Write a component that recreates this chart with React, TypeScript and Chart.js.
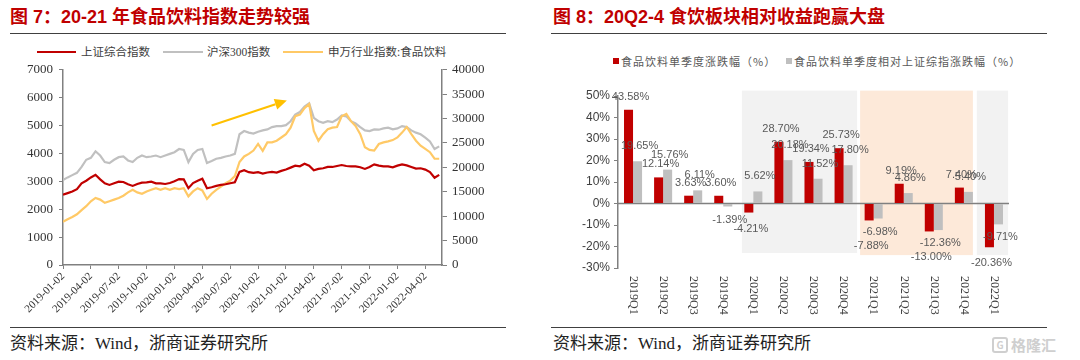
import React, { useEffect, useRef } from "react";
import { Chart, registerables } from "chart.js";

Chart.register(...registerables);

// ---------------- Left chart data (half-monthly samples, 6 per quarter) ----------------
const quarterTicks = [
  "2019-01-02", "2019-04-02", "2019-07-02", "2019-10-02",
  "2020-01-02", "2020-04-02", "2020-07-02", "2020-10-02",
  "2021-01-02", "2021-04-02", "2021-07-02", "2021-10-02",
  "2022-01-02", "2022-04-02",
];
const POINTS_PER_QUARTER = 6;

const sseComposite = [
  2520, 2578, 2637, 2720, 2930, 3023, 3140, 3234, 3070, 2930,
  2871, 2930, 2988, 2977, 2895, 2836, 2906, 2953, 2965, 2988,
  2930, 2930, 2906, 2941, 3000, 3082, 3070, 2754, 2940, 3023,
  3094, 2754, 2789, 2836, 2871, 2895, 2930, 2965, 3340, 3398,
  3328, 3305, 3328, 3281, 3316, 3340, 3316, 3375, 3422, 3492,
  3563, 3539, 3633, 3563, 3398, 3445, 3470, 3516, 3516, 3551,
  3586, 3551, 3539, 3539, 3504, 3445, 3516, 3609, 3563, 3539,
  3539, 3504, 3563, 3609, 3574, 3516, 3457, 3469, 3422, 3330,
  3130, 3230,
];

const csi300 = [
  3047, 3141, 3223, 3305, 3516, 3774, 3844, 4078, 3926, 3691,
  3656, 3774, 3867, 3891, 3750, 3691, 3844, 3926, 3867, 3891,
  3926, 3867, 3926, 3984, 4043, 4160, 4125, 3691, 3984, 4125,
  4160, 3656, 3727, 3809, 3844, 3891, 3926, 3984, 4688, 4805,
  4746, 4711, 4781, 4828, 4863, 4946, 4980, 4980, 5016, 5156,
  5391, 5485, 5684, 5800, 5274, 5156, 5098, 5156, 5121, 5215,
  5367, 5332, 5156, 5074, 4946, 4828, 4805, 4863, 4852, 4899,
  4922, 4863, 4899, 4980, 4946, 4828, 4746, 4688, 4570, 4430,
  4160, 4254,
];

const swFoodBeverage = [
  8844, 9380, 9849, 10385, 11256, 12060, 13065, 13735, 13400, 12730,
  13065, 13400, 13735, 14204, 14874, 15410, 14874, 14606, 15075, 15410,
  15745, 15410, 15745, 15410, 15745, 15544, 15745, 14070, 15075, 15745,
  15276, 13534, 14606, 15410, 16080, 16750, 17286, 18224, 21105, 22244,
  22780, 23450, 24800, 23400, 25125, 25125, 25460, 26130, 26800, 28140,
  30485, 30820, 32160, 32964, 27470, 25460, 26800, 27805, 28140, 28274,
  30485, 30954, 29480, 28475, 26800, 24120, 23584, 23450, 24790, 25125,
  25326, 25594, 26130, 27135, 28274, 26800, 25460, 24455, 23785, 23115,
  21775, 21775,
];

const lineSeriesNames = ["上证综合指数", "沪深300指数", "申万行业指数:食品饮料"];
const lineColors = ["#C00000", "#C0C0C0", "#FFC966"];

// trend arrow annotation (index on x, left-axis value on y)
const trendArrow = { fromX: 32, fromY: 5000, toX: 48.2, toY: 5900 };

// ---------------- Right chart data ----------------
const quarters = [
  "2019Q1", "2019Q2", "2019Q3", "2019Q4",
  "2020Q1", "2020Q2", "2020Q3", "2020Q4",
  "2021Q1", "2021Q2", "2021Q3", "2021Q4",
  "2022Q1",
];
const foodBevQuarterly = [43.58, 12.14, 3.63, 3.6, -4.21, 28.7, 19.34, 25.73, -7.88, 9.19, -13.0, 7.4, -20.36];
const foodBevVsSSE = [19.65, 15.76, 6.11, -1.39, 5.62, 20.18, 11.52, 17.8, -6.98, 4.86, -12.36, 5.4, -9.71];
const barSeriesNames = ["食品饮料单季度涨跌幅（%）", "食品饮料单季度相对上证综指涨跌幅（%）"];
const barColors = ["#C00000", "#BFBFBF"];

// highlighted periods (category positions), shaded behind bars
const bands = [
  { from: 3.62, to: 7.45, top: 52.5, bottom: -23, color: "#F2F2F2" },
  { from: 7.55, to: 11.3, top: 52.5, bottom: -24, color: "#FDE9D9" },
  { from: 11.43, to: 12.47, top: 52.5, bottom: -24, color: "#F2F2F2" },
];

const AXIS = "#808080";
const SERIF = "'Liberation Serif', 'Times New Roman', serif";

function LeftChart() {
  const ref = useRef<HTMLCanvasElement | null>(null);
  useEffect(() => {
    const arrowPlugin = {
      id: "arrow",
      afterDatasetsDraw(chart: any) {
        const { ctx, scales } = chart;
        const x1 = scales.x.getPixelForValue(trendArrow.fromX);
        const y1 = scales.y.getPixelForValue(trendArrow.fromY);
        const x2 = scales.x.getPixelForValue(trendArrow.toX);
        const y2 = scales.y.getPixelForValue(trendArrow.toY);
        const ang = Math.atan2(y2 - y1, x2 - x1);
        const head = 12;
        const hw = 5.5;
        const bx = x2 - head * Math.cos(ang);
        const by = y2 - head * Math.sin(ang);
        ctx.save();
        ctx.strokeStyle = "#FFC000";
        ctx.fillStyle = "#FFC000";
        ctx.lineWidth = 2;
        ctx.beginPath();
        ctx.moveTo(x1, y1);
        ctx.lineTo(bx, by);
        ctx.stroke();
        ctx.beginPath();
        ctx.moveTo(x2, y2);
        ctx.lineTo(bx + hw * Math.sin(ang), by - hw * Math.cos(ang));
        ctx.lineTo(bx - hw * Math.sin(ang), by + hw * Math.cos(ang));
        ctx.closePath();
        ctx.fill();
        ctx.restore();
      },
    };
    const series = [sseComposite, csi300, swFoodBeverage];
    const chart = new Chart(ref.current as HTMLCanvasElement, {
      type: "line",
      data: {
        datasets: series.map((s, k) => ({
          label: lineSeriesNames[k],
          data: s.map((v, i) => ({ x: i, y: v })),
          borderColor: lineColors[k],
          backgroundColor: lineColors[k],
          borderWidth: 2.2,
          pointRadius: 0,
          tension: 0,
          yAxisID: k === 2 ? "y1" : "y",
          order: k === 0 ? 1 : k === 2 ? 2 : 3,
        })),
      },
      options: {
        animation: false,
        responsive: false,
        maintainAspectRatio: false,
        layout: { padding: { top: 10, left: 0, right: 0, bottom: 0 } },
        plugins: { legend: { display: false }, tooltip: { enabled: false } },
        scales: {
          x: {
            type: "linear",
            min: 0,
            max: 81.6,
            afterBuildTicks: (s: any) => {
              s.ticks = quarterTicks.map((_, i) => ({ value: i * POINTS_PER_QUARTER }));
            },
            afterFit: (s: any) => {
              s.height = 61;
            },
            ticks: {
              autoSkip: false,
              minRotation: 45,
              maxRotation: 45,
              padding: 1,
              color: "#333",
              font: { family: SERIF, size: 11 },
              callback: (v: any) => quarterTicks[Math.round(Number(v) / POINTS_PER_QUARTER)] ?? "",
            },
            grid: { drawOnChartArea: false, tickLength: 4, color: AXIS, lineWidth: 1 },
            border: { color: AXIS, width: 1.5 },
          },
          y: {
            position: "left",
            min: 0,
            max: 7000,
            afterFit: (s: any) => {
              s.width = 63;
            },
            ticks: {
              stepSize: 1000,
              padding: 6,
              color: "#333",
              font: { family: SERIF, size: 13 },
              callback: (v: any) => String(v),
            },
            grid: { drawOnChartArea: false, tickLength: 4, color: AXIS, lineWidth: 1 },
            border: { color: AXIS, width: 1.5 },
          },
          y1: {
            position: "right",
            min: 0,
            max: 40000,
            afterFit: (s: any) => {
              s.width = 98;
            },
            ticks: {
              stepSize: 5000,
              padding: 5,
              color: "#333",
              font: { family: SERIF, size: 13 },
              callback: (v: any) => String(v),
            },
            grid: { drawOnChartArea: false, tickLength: 5, color: AXIS, lineWidth: 1 },
            border: { color: AXIS, width: 1.5 },
          },
        },
      },
      plugins: [arrowPlugin],
    } as any);
    return () => chart.destroy();
  }, []);
  return (
    <canvas
      ref={ref}
      width={540}
      height={270}
      style={{ position: "absolute", left: 0, top: 56, width: 540, height: 270 }}
    />
  );
}

function RightChart() {
  const ref = useRef<HTMLCanvasElement | null>(null);
  useEffect(() => {
    const decorPlugin = {
      id: "decor",
      beforeDatasetsDraw(chart: any) {
        const { ctx, scales, chartArea } = chart;
        const xs = scales.x;
        const ys = scales.y;
        ctx.save();
        bands.forEach((b) => {
          const l = xs.getPixelForValue(b.from);
          const r = xs.getPixelForValue(b.to);
          const t = ys.getPixelForValue(b.top);
          const bt = ys.getPixelForValue(b.bottom);
          ctx.fillStyle = b.color;
          ctx.fillRect(l, t, r - l, bt - t);
        });
        const y0 = ys.getPixelForValue(0);
        ctx.strokeStyle = AXIS;
        ctx.lineWidth = 1.5;
        ctx.beginPath();
        ctx.moveTo(chartArea.left, y0);
        ctx.lineTo(chartArea.right, y0);
        ctx.stroke();
        ctx.restore();
      },
      afterDatasetsDraw(chart: any) {
        const { ctx } = chart;
        ctx.save();
        ctx.fillStyle = "#595959";
        ctx.font = "11px 'Liberation Sans Narrow', 'Liberation Sans', sans-serif";
        ctx.textAlign = "center";
        ctx.textBaseline = "middle";
        const redMeta = chart.getDatasetMeta(0);
        const grayMeta = chart.getDatasetMeta(1);
        quarters.forEach((_, i) => {
          const r = foodBevQuarterly[i];
          const g = foodBevVsSSE[i];
          const rEl = redMeta.data[i];
          const gEl = grayMeta.data[i];
          const gy = g >= 0 ? gEl.y - 15 : gEl.y + 13;
          let ry = r >= 0 ? rEl.y - 13 : rEl.y + 16;
          if (r < 0 && g < 0) ry = Math.max(ry, gy + 14);
          ctx.fillText(g.toFixed(2) + "%", gEl.x + 2, gy);
          ctx.fillText(r.toFixed(2) + "%", rEl.x + 2, ry);
        });
        ctx.restore();
      },
      afterDraw(chart: any) {
        const { ctx, scales, chartArea } = chart;
        ctx.save();
        ctx.fillStyle = "#404040";
        ctx.font = "12px " + SERIF;
        ctx.textAlign = "left";
        ctx.textBaseline = "middle";
        quarters.forEach((q, i) => {
          const x = scales.x.getPixelForValue(i);
          ctx.save();
          ctx.translate(x, chartArea.bottom + 8);
          ctx.rotate(Math.PI / 2);
          ctx.fillText(q, 0, 0);
          ctx.restore();
        });
        ctx.restore();
      },
    };
    const chart = new Chart(ref.current as HTMLCanvasElement, {
      type: "bar",
      data: {
        labels: quarters,
        datasets: [foodBevQuarterly, foodBevVsSSE].map((d, k) => ({
          label: barSeriesNames[k],
          data: d,
          backgroundColor: barColors[k],
          categoryPercentage: 0.6,
          barPercentage: 1.0,
        })),
      },
      options: {
        animation: false,
        responsive: false,
        maintainAspectRatio: false,
        layout: { padding: { top: 16, right: 71, left: 0, bottom: 0 } },
        plugins: { legend: { display: false }, tooltip: { enabled: false } },
        scales: {
          x: {
            ticks: { display: false },
            grid: { display: false },
            border: { display: false },
            afterFit: (s: any) => {
              s.height = 57;
            },
          },
          y: {
            min: -30,
            max: 50,
            afterFit: (s: any) => {
              s.width = 78;
            },
            ticks: {
              stepSize: 10,
              padding: 4,
              color: "#404040",
              font: { family: "'Liberation Sans Narrow', 'Liberation Sans', sans-serif", size: 12 },
              callback: (v: any) => v + "%",
            },
            grid: { drawOnChartArea: false, tickLength: 4, color: AXIS, lineWidth: 1 },
            border: { color: AXIS, width: 1.5 },
          },
        },
      },
      plugins: [decorPlugin],
    } as any);
    return () => chart.destroy();
  }, []);
  return (
    <canvas
      ref={ref}
      width={540}
      height={245}
      style={{ position: "absolute", left: 540, top: 80, width: 540, height: 245 }}
    />
  );
}

const titleStyle: React.CSSProperties = {
  position: "absolute",
  top: 6,
  fontFamily: "'Liberation Sans', 'Noto Sans CJK SC', sans-serif",
  fontWeight: 700,
  fontSize: 18,
  lineHeight: "22px",
  color: "#C00000",
  whiteSpace: "nowrap",
};
const sourceStyle: React.CSSProperties = {
  position: "absolute",
  top: 335,
  fontFamily: "'Liberation Serif', 'Noto Sans CJK SC', serif",
  fontSize: 17,
  lineHeight: "18px",
  color: "#222",
  whiteSpace: "nowrap",
};
function rule(left: number, top: number, width: number): React.CSSProperties {
  return { position: "absolute", left, top, width, height: 1.5, background: "#404040" };
}
const legendText: React.CSSProperties = {
  position: "absolute",
  fontFamily: "'Liberation Serif', 'Noto Sans CJK SC', serif",
  fontSize: 11.5,
  lineHeight: "14px",
  color: "#404040",
  whiteSpace: "nowrap",
};
const leftLegendPos = [
  { x1: 37, x2: 76, tx: 81 },
  { x1: 163, x2: 203, tx: 207 },
  { x1: 283, x2: 323, tx: 328 },
];
const rightLegendPos = [
  { sx: 613, tx: 621 },
  { sx: 786, tx: 794 },
];

export default function App() {
  return (
    <div
      style={{
        position: "fixed",
        left: 0,
        top: 0,
        width: 1080,
        height: 360,
        background: "#ffffff",
        overflow: "hidden",
      }}
    >
      <div style={{ ...titleStyle, left: 10 }}>图 7：20-21 年食品饮料指数走势较强</div>
      <div style={{ ...titleStyle, left: 553 }}>图 8：20Q2-4 食饮板块相对收益跑赢大盘</div>
      <div style={rule(10, 32.5, 496)} />
      <div style={rule(551, 32.5, 496)} />

      {lineSeriesNames.map((n, k) => (
        <React.Fragment key={n}>
          <div
            style={{
              position: "absolute",
              left: leftLegendPos[k].x1,
              top: 51,
              width: leftLegendPos[k].x2 - leftLegendPos[k].x1,
              height: 2,
              background: lineColors[k],
            }}
          />
          <div style={{ ...legendText, left: leftLegendPos[k].tx, top: 45 }}>{n}</div>
        </React.Fragment>
      ))}

      {barSeriesNames.map((n, k) => (
        <React.Fragment key={n}>
          <div
            style={{
              position: "absolute",
              left: rightLegendPos[k].sx,
              top: 58,
              width: 6,
              height: 6,
              background: barColors[k],
            }}
          />
          <div
            style={{
              position: "absolute",
              left: rightLegendPos[k].tx,
              top: 54,
              fontFamily: "'Noto Sans CJK SC', sans-serif",
              fontSize: 11,
              letterSpacing: 1,
              lineHeight: "14px",
              color: "#595959",
              whiteSpace: "nowrap",
            }}
          >
            {n}
          </div>
        </React.Fragment>
      ))}

      <LeftChart />
      <RightChart />

      <div style={rule(10, 326.5, 496)} />
      <div style={rule(551, 326.5, 496)} />
      <div style={{ ...sourceStyle, left: 10 }}>资料来源：Wind，浙商证券研究所</div>
      <div style={{ ...sourceStyle, left: 553 }}>资料来源：Wind，浙商证券研究所</div>

      <div
        style={{
          position: "absolute",
          left: 992,
          top: 337,
          display: "flex",
          alignItems: "center",
          gap: 3,
          color: "#CFCFCF",
          fontFamily: "'Noto Sans CJK SC', sans-serif",
          fontSize: 15,
          lineHeight: "16px",
          fontWeight: 700,
        }}
      >
        <span
          style={{
            display: "inline-block",
            width: 12,
            height: 12,
            border: "2px solid #CFCFCF",
            borderRadius: 3,
            fontSize: 10,
            lineHeight: "12px",
            textAlign: "center",
          }}
        >
          G
        </span>
        <span>格隆汇</span>
      </div>
    </div>
  );
}
